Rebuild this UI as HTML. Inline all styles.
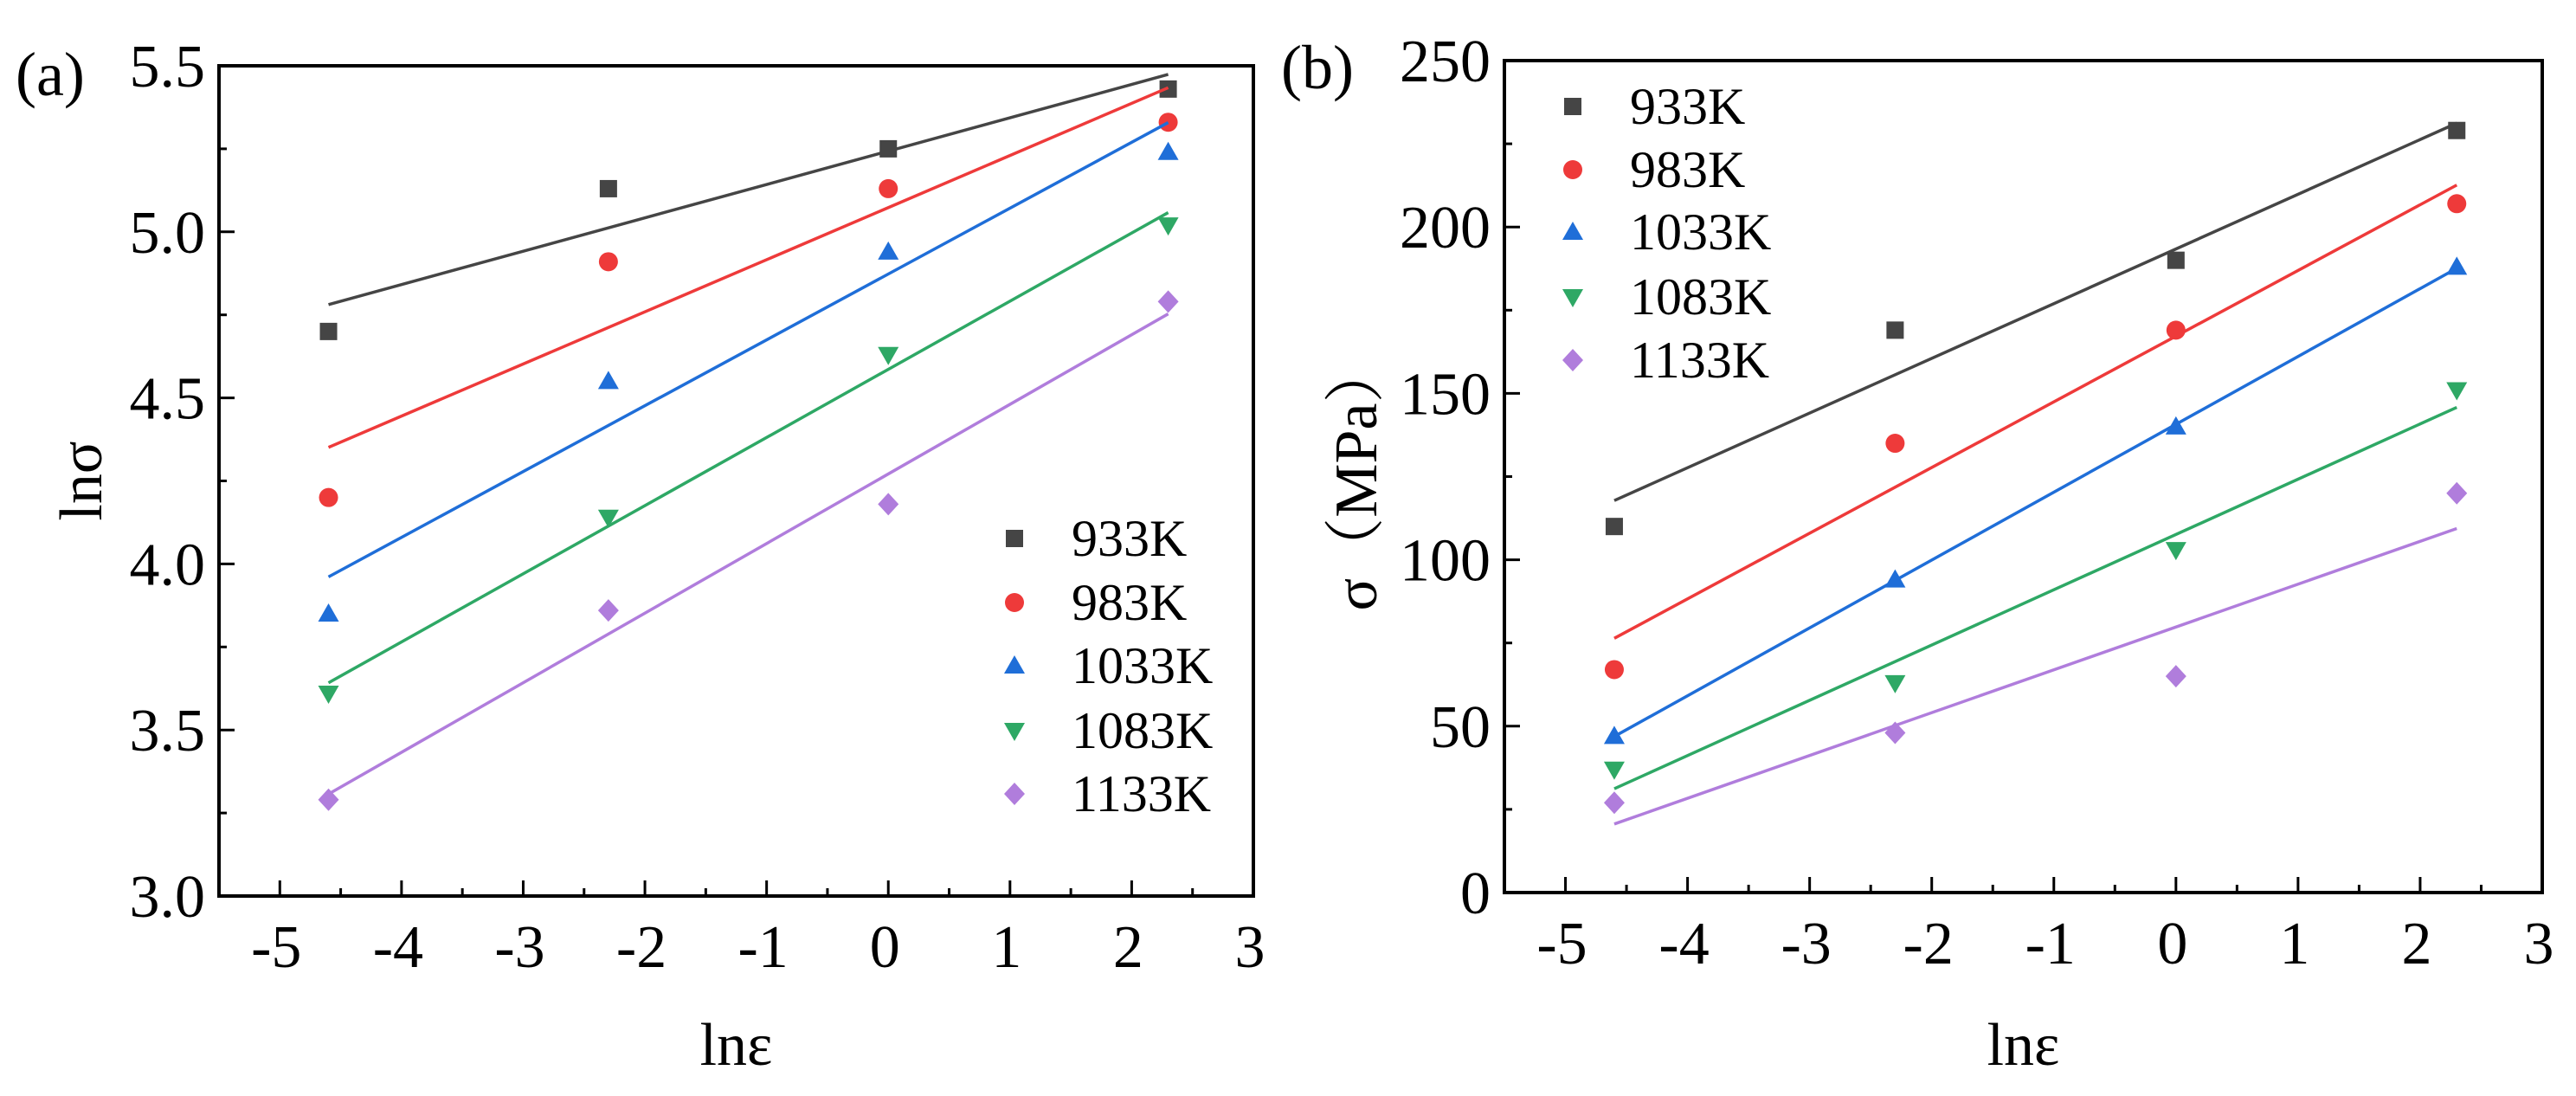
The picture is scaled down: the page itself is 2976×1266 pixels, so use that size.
<!DOCTYPE html>
<html><head><meta charset="utf-8"><style>
html,body{margin:0;padding:0;background:#fff;overflow:hidden;}
svg{display:block;font-family:"Liberation Serif","Noto Serif CJK SC",serif;}
</style></head><body>
<svg id="fig" width="2976" height="1266" viewBox="0 0 2976 1266" xmlns="http://www.w3.org/2000/svg"></svg>
<script>
const xValues = [-4.6, -2.3, 0, 2.3];
const seriesNames = ["933K","983K","1033K","1083K","1133K"];
const seriesColors = ["#454545","#ee3a3a","#1f6ed8","#2ea865","#b07ddc"];
const markerShapes = ["square","circle","up","down","diamond"];
const lnSigma933 = [4.70, 5.13, 5.25, 5.43];
const lnSigma983 = [4.20, 4.91, 5.13, 5.33];
const lnSigma1033 = [3.85, 4.55, 4.94, 5.24];
const lnSigma1083 = [3.61, 4.14, 4.63, 5.02];
const lnSigma1133 = [3.29, 3.86, 4.18, 4.79];
const sigma933 = [110, 169, 190, 229];
const sigma983 = [67, 135, 169, 207];
const sigma1033 = [47, 94, 140, 188];
const sigma1083 = [37, 63, 103, 151];
const sigma1133 = [27, 48, 65, 120];
const xTicks = [-5,-4,-3,-2,-1,0,1,2,3];
const yTicksA = ["3.0","3.5","4.0","4.5","5.0","5.5"];
const yTicksB = ["0","50","100","150","200","250"];

const NS="http://www.w3.org/2000/svg";
const svg=document.getElementById('fig');
function el(tag,attrs,parent){const e=document.createElementNS(NS,tag);for(const k in attrs)e.setAttribute(k,attrs[k]);(parent||svg).appendChild(e);return e;}
function fit(xs,ys){const n=xs.length;const mx=xs.reduce((a,b)=>a+b)/n,my=ys.reduce((a,b)=>a+b)/n;let sxy=0,sxx=0;for(let i=0;i<n;i++){sxy+=(xs[i]-mx)*(ys[i]-my);sxx+=(xs[i]-mx)**2;}const b=sxy/sxx;return [my-b*mx,b];}
function marker(g,shape,cx,cy,color){const s=10;let m;
 if(shape==="square")m=el('rect',{x:cx-s,y:cy-s,width:2*s,height:2*s,fill:color},g);
 else if(shape==="circle")m=el('circle',{cx:cx,cy:cy,r:s+1,fill:color},g);
 else if(shape==="up")m=el('polygon',{points:`${cx},${cy-12} ${cx+12},${cy+9} ${cx-12},${cy+9}`,fill:color},g);
 else if(shape==="down")m=el('polygon',{points:`${cx},${cy+12} ${cx+12},${cy-9} ${cx-12},${cy-9}`,fill:color},g);
 else m=el('polygon',{points:`${cx},${cy-13} ${cx+12},${cy} ${cx},${cy+13} ${cx-12},${cy}`,fill:color},g);
 return m;}

function panel(cfg){
 const g=el('g',{});
 
 
 const {L,R,T,B,xmin,xmax,ymin,ymax}=cfg;
 const sx=v=>L+(v-xmin)/(xmax-xmin)*(R-L);
 const sy=v=>B-(v-ymin)/(ymax-ymin)*(B-T);
 xTicks.forEach((t,i)=>{
  const x=sx(t);
  const tk=el('line',{x1:x,y1:B,x2:x,y2:B-18,stroke:'#000','stroke-width':3},g);
  
  
  if(i<xTicks.length-1){const mx=sx(t+0.5);const mt=el('line',{x1:mx,y1:B,x2:mx,y2:B-9,stroke:'#000','stroke-width':3},g);
   
   }
  const lb=el('text',{x:x-4,y:B+82,'font-size':70,'text-anchor':'middle'},g);lb.textContent=String(t);
  
  
 });
 cfg.yLabels.forEach((t,i)=>{
  const v=parseFloat(t);const y=sy(v);
  const tk=el('line',{x1:L,y1:y,x2:L+18,y2:y,stroke:'#000','stroke-width':3},g);
  
  
  if(i<cfg.yLabels.length-1){const my=sy(v+cfg.ystep/2);const mt=el('line',{x1:L,y1:my,x2:L+9,y2:my,stroke:'#000','stroke-width':3},g);
   
   }
  const lb=el('text',{x:L-16,y:y+24,'font-size':70,'text-anchor':'end'},g);lb.textContent=t;
  
  
 });
 cfg.series.forEach((ys,si)=>{
  const c=seriesColors[si];
  const [a,b]=fit(xValues,ys);
  const x0=xValues[0],x1=xValues[xValues.length-1];
  const ln=el('line',{x1:sx(x0),y1:sy(a+b*x0),x2:sx(x1),y2:sy(a+b*x1),stroke:c,'stroke-width':3.5},g);
  
  
  ys.forEach((v,i)=>{const m=marker(g,markerShapes[si],sx(xValues[i]),sy(v),c);
   
   });
 });
 const box=el('rect',{x:L,y:T,width:R-L,height:B-T,fill:'none',stroke:'#000','stroke-width':4},g);
 
 
 seriesNames.forEach((n,i)=>{
  const y=cfg.legY[i];
  const m=marker(g,markerShapes[i],cfg.legX,y,seriesColors[i]);
  
  
  const t=el('text',{x:cfg.legX+66,y:y+20,'font-size':60},g);t.textContent=n;
  
  
 });
 const xl=el('text',{x:(L+R)/2,y:1230,'font-size':70,'text-anchor':'middle'},g);xl.textContent='lnε';
 
 
 const yl=el('text',{x:0,y:0,'font-size':70,'text-anchor':'middle',transform:`translate(${cfg.yTitleX},${(T+B)/2}) rotate(-90)`},g);yl.textContent=cfg.yTitle;
 
 
 const pl=el('text',{x:cfg.tagX,y:cfg.tagY,'font-size':72},g);pl.textContent=cfg.tag;
 
 
}
panel({name:'panel-a',L:253,R:1448,T:76,B:1035,xmin:-5.5,xmax:3,ymin:3,ymax:5.5,ystep:0.5,yLabels:yTicksA,
 series:[lnSigma933,lnSigma983,lnSigma1033,lnSigma1083,lnSigma1133],legX:1172,legY:[622,696,769,844,917],
 yTitle:'lnσ',yTitleX:117,tag:'(a)',tagX:18,tagY:110});
panel({name:'panel-b',L:1738,R:2937,T:70,B:1031,xmin:-5.5,xmax:3,ymin:0,ymax:250,ystep:50,yLabels:yTicksB,
 series:[sigma933,sigma983,sigma1033,sigma1083,sigma1133],legX:1817,legY:[123,196,268,343,416],
 yTitle:'σ（MPa）',yTitleX:1590,tag:'(b)',tagX:1480,tagY:102});
</script>
</body></html>
